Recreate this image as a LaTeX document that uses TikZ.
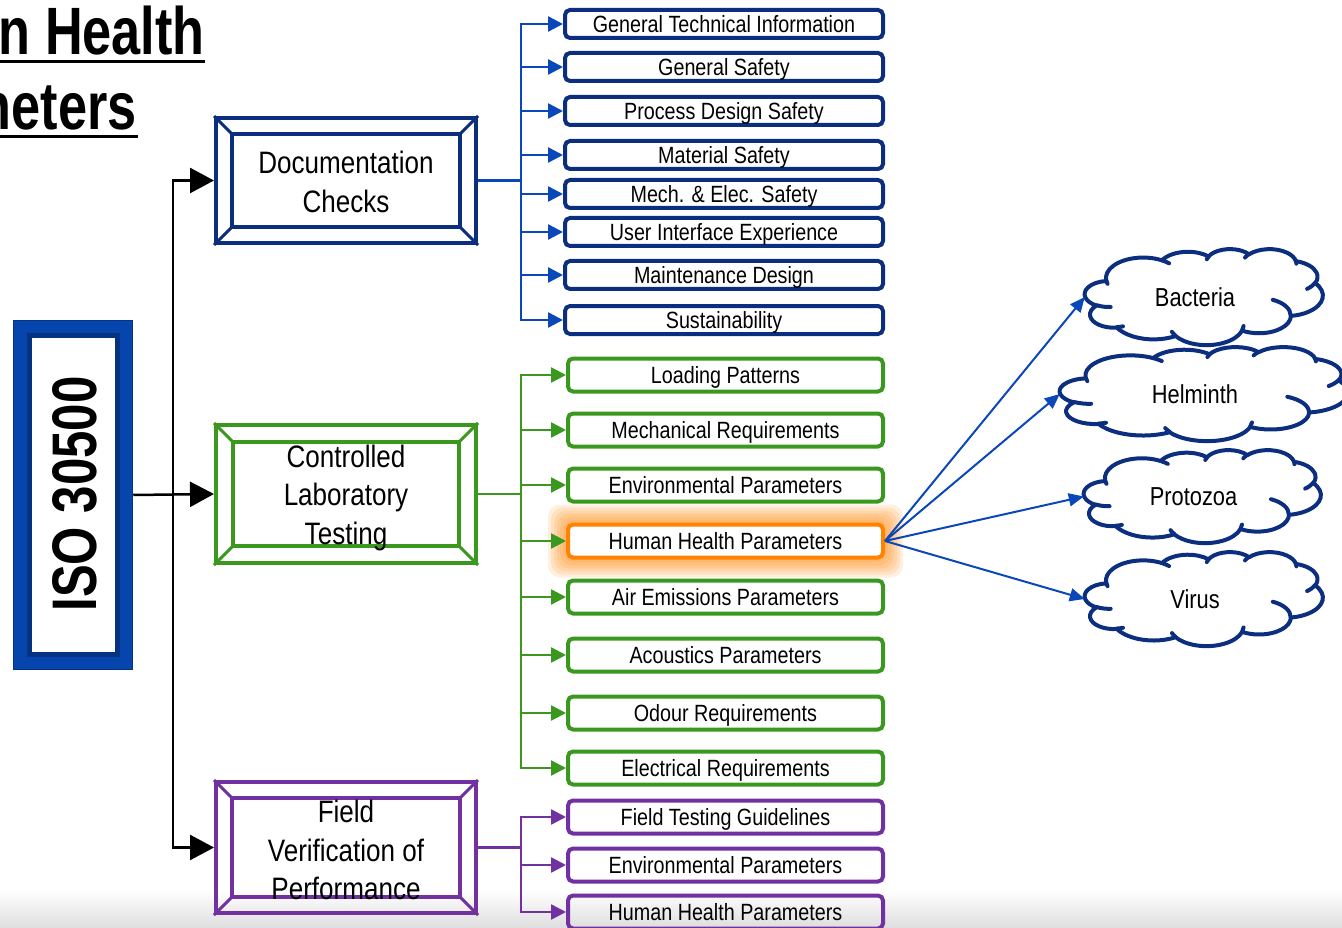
\documentclass[tikz,border=0pt]{standalone}
\usepackage{fontspec}
\setmainfont[FakeStretch=0.84]{Liberation Sans}
\newfontfamily\condbold[FakeStretch=0.78]{Liberation Sans}
\usetikzlibrary{arrows.meta,calc}

\definecolor{navy}{HTML}{0B2E7E}
\definecolor{conblue}{HTML}{0A47B8}
\definecolor{isoblue}{HTML}{0645AD}
\definecolor{isodark}{HTML}{05337F}
\definecolor{grn}{HTML}{3A981E}
\definecolor{purp}{HTML}{7131A1}
\definecolor{orng}{HTML}{FF8200}

\pgfdeclarelayer{under}
\pgfsetlayers{under,main}

% inner frame and corner bevels of a framed box
\newcommand\bevelframe[3]{%
  \draw[#3, line width=4pt]
    ([shift={(#2,#2)}]#1.north west) rectangle ([shift={(-#2,-#2)}]#1.south east);
  \draw[#3, line width=3pt]
    (#1.north west) -- ++(#2,#2)
    (#1.north east) -- ++(-#2,#2)
    (#1.south west) -- ++(#2,-#2)
    (#1.south east) -- ++(-#2,-#2);
}

% elliptic arc given by radii, start ray angle and sweep (clockwise on screen)
\tikzset{ca/.style n args={4}{insert path={
  arc[x radius=#1, y radius=#2,
      start angle={atan2(sin(#3)*#1, cos(#3)*#2)},
      delta angle={mod(atan2(sin(#3+#4)*#1, cos(#3+#4)*#2)
                      - atan2(sin(#3)*#1, cos(#3)*#2) + 720, 360)}]}}}

% cloud outline drawn round the box of node #1; #2, #3 = box width/432, height/432
\newcommand\cloudline[3]{%
  \begin{scope}[shift={(#1.north west)}, x=#2pt, y=-#3pt,
      draw=navy, line width=4pt, line cap=round, line join=round]
    \draw (39.00,143.70)
      [ca={67.53}{91.90}{-190.4875}{123.7805}]
      [ca={53.33}{72.67}{-144.1024}{89.9452}]
      [ca={43.65}{59.45}{-145.8079}{99.7230}]
      [ca={48.57}{65.95}{-130.9861}{117.2417}]
      [ca={53.33}{72.73}{-78.7089}{109.0269}]
      [ca={67.75}{92.20}{-46.2673}{130.2690}]
      [ca={57.85}{78.67}{0.6250}{114.0333}]
      [ca={67.52}{92.15}{22.4516}{115.1726}]
      [ca={77.20}{105.43}{66.2426}{75.7110}]
      [ca={43.60}{59.18}{-274.9421}{146.7356}]
      [ca={43.45}{59.45}{-246.8285}{152.5189}] -- cycle;
    \draw
      (46.93,261.77) [ca={43.45}{59.45}{86.7420}{26.4295}]
      (69.28,348.99) [ca={43.60}{59.18}{73.6105}{11.4475}]
      (164.78,390.90) [ca={67.52}{92.15}{137.6242}{14.0811}]
      (288.27,347.51) [ca={67.52}{92.15}{6.4533}{15.9984}]
      (341.29,229.54) [ca={57.85}{78.67}{-70.2924}{70.9174}]
      (417.98,153.54) [ca={53.33}{72.73}{30.3180}{27.7515}]
      (383.24,54.26) [ca={48.57}{65.95}{-13.7443}{14.8589}]
      (290.78,39.52) [ca={48.57}{65.95}{-149.1815}{18.1954}]
      (221.41,47.20) [ca={43.65}{59.45}{-163.4943}{17.6864}]
      (140.00,51.92) [ca={67.53}{91.90}{-66.7070}{12.3194}]
      (41.27,157.89) [ca={67.53}{91.90}{157.6544}{11.8582}];
  \end{scope}}

\begin{document}
\begin{tikzpicture}[x=1pt,y=-1pt,
  bevelbox/.style={draw=#1, line width=4pt, minimum width=260, inner sep=0},
  boxtext/.style={inner sep=0, align=center, font=\fontsize{31}{38.5}\selectfont},
  item/.style={draw=#1, line width=4pt, rounded corners=5pt, minimum width=318,
    minimum height=28, inner sep=0, text height=16.8pt, text depth=0pt,
    font=\fontsize{23.5}{26}\selectfont},
  gitem/.style={item=#1, minimum width=315, minimum height=33},
  blk/.style={line width=2.5pt, -{Triangle[length=24pt,width=25pt]}},
  con/.style={draw=#1, line width=2.5pt, -{Triangle[length=15pt,width=15pt]}},
  bus/.style={draw=#1, line width=2.5pt},
  cloudbox/.style={inner sep=0, text height=18.5pt, text depth=0pt,
    font=\fontsize{26}{26}\selectfont},
  title/.style={anchor=base east, inner sep=0,
    font=\condbold\bfseries\fontsize{67}{67}\selectfont}
]
\useasboundingbox (0,0) rectangle (1342,928);
\clip (0,0) rectangle (1342,928);

% ---- heading ----
\node[title] (t1) at (205,55) {n Health};
\node[title] (t2) at (137,130) {neters};
\draw[line width=3pt] (0,62) -- (205,62);
\draw[line width=3pt] (0,137) -- (138,137);

% ---- standard box ----
\node[draw=isodark, line width=1.5pt, fill=isoblue, minimum width=119,
  minimum height=349] (iso) at (73,495) {};
\node[draw=isodark, line width=5pt, fill=white, minimum width=87.5,
  minimum height=319] (isoin) at (73.3,495) {};
\node[rotate=90, inner sep=0, font=\condbold\bfseries\fontsize{63}{63}\selectfont]
  (isotxt) at (75,494) {ISO 30500};

% ---- main stages ----
\node[bevelbox=navy, minimum height=125] (doc) at (346,180.5) {};
\bevelframe{doc}{18}{navy}
\node[boxtext] (doctxt) at (346,182) {Documentation\\Checks};
\node[bevelbox=grn, minimum height=138] (ctl) at (346,494) {};
\bevelframe{ctl}{19}{grn}
\node[boxtext] (ctltxt) at (346,497.5) {Controlled\\Laboratory\\Testing};
\node[bevelbox=purp, minimum height=131] (fld) at (346,847.5) {};
\bevelframe{fld}{18}{purp}
\node[boxtext] (fldtxt) at (346,850) {Field\\Verification of\\Performance};

\coordinate (trunk) at (173,0);
\coordinate (bx) at (521,0);

\draw[blk] (iso.east) -- (ctl.west);
\draw[blk] (iso.east -| trunk) |- (doc.west);
\draw[blk] (iso.east -| trunk) |- (fld.west);

% ---- documentation items ----
\node[item=navy] (d1) at (724,24) {General Technical Information};
\node[item=navy] (d2) at (724,67) {General Safety};
\node[item=navy] (d3) at (724,111) {Process Design Safety};
\node[item=navy] (d4) at (724,155) {Material Safety};
\node[item=navy] (d5) at (724,194) {Mech. \& Elec. Safety};
\node[item=navy] (d6) at (724,232) {User Interface Experience};
\node[item=navy] (d7) at (724,275) {Maintenance Design};
\node[item=navy] (d8) at (724,320) {Sustainability};
\draw[bus=conblue] (doc.east) -- (doc.east -| bx);
\foreach \n in {d1,d2,d3,d4,d5,d6,d7,d8}
  \draw[con=conblue] (doc.east -| bx) |- (\n.west);

% ---- laboratory items ----
\node[gitem=grn] (g1) at (725.5,375) {Loading Patterns};
\node[gitem=grn] (g2) at (725.5,430) {Mechanical Requirements};
\node[gitem=grn] (g3) at (725.5,485) {Environmental Parameters};
\node[gitem=orng, fill=white] (hh) at (725.5,541) {Human Health Parameters};
\node[gitem=grn] (g5) at (725.5,597) {Air Emissions Parameters};
\node[gitem=grn] (g6) at (725.5,655) {Acoustics Parameters};
\node[gitem=grn] (g7) at (725.5,713) {Odour Requirements};
\node[gitem=grn] (g8) at (725.5,768) {Electrical Requirements};
\draw[bus=grn] (ctl.east) -- (ctl.east -| bx);
\foreach \n in {g1,g2,g3,hh,g5,g6,g7,g8}
  \draw[con=grn] (ctl.east -| bx) |- (\n.west);

% ---- field items ----
\node[gitem=purp] (f1) at (725.5,817) {Field Testing Guidelines};
\node[gitem=purp] (f2) at (725.5,865) {Environmental Parameters};
\node[gitem=purp] (f3) at (725.5,912) {Human Health Parameters};
\draw[bus=purp] (fld.east) -- (fld.east -| bx);
\foreach \n in {f1,f2,f3}
  \draw[con=purp] (fld.east -| bx) |- (\n.west);

% ---- pathogen groups ----
\node[cloudbox, minimum width=238, minimum height=96] (bac) at (1204,297) {Bacteria\kern18pt};
\node[cloudbox, minimum width=288, minimum height=94] (hel) at (1204,394) {Helminth\kern18pt};
\node[cloudbox, minimum width=237, minimum height=93] (pro) at (1202.5,496.5) {Protozoa\kern18pt};
\node[cloudbox, minimum width=238, minimum height=94] (vir) at (1204,599) {Virus\kern18pt};
\cloudline{bac}{0.55093}{0.22222}
\cloudline{hel}{0.66667}{0.21759}
\cloudline{pro}{0.54861}{0.21528}
\cloudline{vir}{0.55093}{0.21759}
\foreach \n in {bac,hel,pro,vir}
  \draw[conblue, line width=2pt, -{Triangle[length=15pt,width=13pt]}] (hh.east) -- (\n.west);

% ---- glow and footer shading ----
\begin{pgfonlayer}{under}
  \shade[top color=white, bottom color=black!13] (0,890) rectangle (1342,928);
  \foreach \g in {18,15,12,9,6,3}
    \fill[orng, opacity=0.13, rounded corners=12pt]
      ($(hh.north west)+(-\g,-\g)$) rectangle ($(hh.south east)+(\g,\g)$);
\end{pgfonlayer}
\end{tikzpicture}
\end{document}
